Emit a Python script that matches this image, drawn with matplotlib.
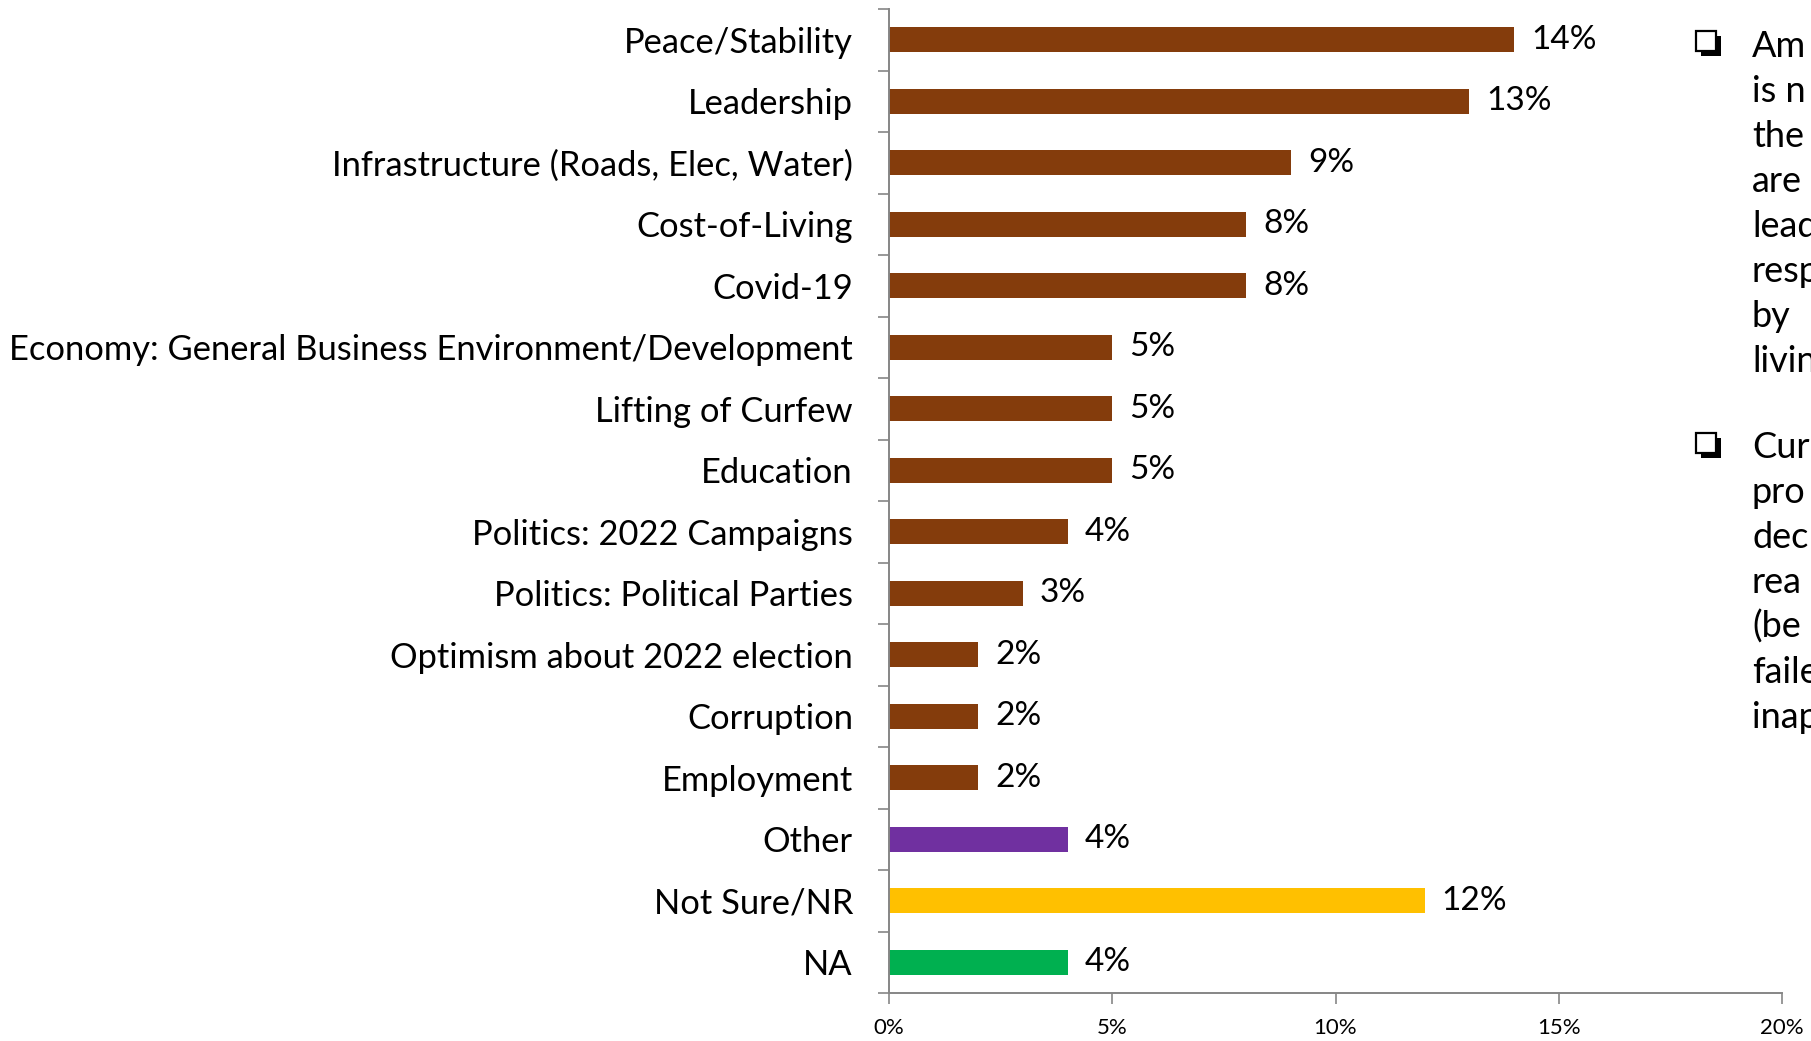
import matplotlib
matplotlib.use("Agg")
import matplotlib.pyplot as plt
from matplotlib.patches import Rectangle
from matplotlib.ticker import FixedLocator

categories = [
    "Peace/Stability",
    "Leadership",
    "Infrastructure (Roads, Elec, Water)",
    "Cost-of-Living",
    "Covid-19",
    "Economy: General Business Environment/Development",
    "Lifting of Curfew",
    "Education",
    "Politics: 2022 Campaigns",
    "Politics: Political Parties",
    "Optimism about 2022 election",
    "Corruption",
    "Employment",
    "Other",
    "Not Sure/NR",
    "NA",
]
values = [14, 13, 9, 8, 8, 5, 5, 5, 4, 3, 2, 2, 2, 4, 12, 4]
colors = ["#843C0C"] * 13 + ["#7030A0", "#FFC000", "#00B050"]
x_ticks = [0, 5, 10, 15, 20]

notes = [
    ["Am", "is n", "the", "are", "lead", "resp", "by", "livin"],
    ["Cur", "pro", "dec", "rea", "(be", "faile", "inap"],
]

W, H = 1811, 1041
fig = plt.figure(figsize=(W / 100, H / 100), dpi=100)
ax = fig.add_axes([889 / W, 1 - 993 / H, (1782 - 889) / W, (993 - 9) / H])

ypos = list(range(len(categories)))
ax.barh(ypos, values, height=0.4, color=colors, zorder=2)
ax.set_ylim(len(categories) - 0.5, -0.5)
ax.set_xlim(0, 20)

label_font = "Lato"
for y, v in zip(ypos, values):
    ax.text(v + 0.38, y, f"{v}%", va="center", ha="left",
            fontsize=24, family=label_font, color="black")

axis_grey = "#868686"
ax.set_yticks(ypos)
ax.set_yticklabels(categories, fontsize=24.8, family=label_font)
ax.tick_params(axis="y", which="major", length=0, pad=26)
ax.yaxis.set_minor_locator(FixedLocator([i - 0.5 for i in range(len(categories) + 1)]))
ax.tick_params(axis="y", which="minor", length=8, width=1.2, color=axis_grey, direction="out")

ax.set_xticks(x_ticks)
ax.set_xticklabels([f"{t}%" for t in x_ticks], fontsize=16, family=label_font)
ax.tick_params(axis="x", which="major", length=8, width=1.2, color=axis_grey, pad=10)

for side in ("top", "right"):
    ax.spines[side].set_visible(False)
for side in ("left", "bottom"):
    ax.spines[side].set_color(axis_grey)
    ax.spines[side].set_linewidth(1.4)


def shadow_box(x, y, size=20, shadow=5):
    """Square bullet with a drop shadow; x, y = top-left corner in pixels."""
    fig.patches.append(Rectangle(((x + shadow) / W, 1 - (y + size + shadow) / H),
                                 size / W, size / H, transform=fig.transFigure,
                                 facecolor="black", edgecolor="black", lw=0))
    fig.patches.append(Rectangle((x / W, 1 - (y + size) / H), size / W, size / H,
                                 transform=fig.transFigure, facecolor="white",
                                 edgecolor="black", lw=1.6))


# Commentary column at the right edge
line_h = 45
baselines = [57, 458]
box_tops = [31, 433]
for block, b0, top in zip(notes, baselines, box_tops):
    shadow_box(1696, top)
    for i, line in enumerate(block):
        fig.text(1752 / W, 1 - (b0 + i * line_h) / H, line, fontsize=26,
                 family="Lato", va="baseline", ha="left")

fig.savefig("out.png", dpi=100)
